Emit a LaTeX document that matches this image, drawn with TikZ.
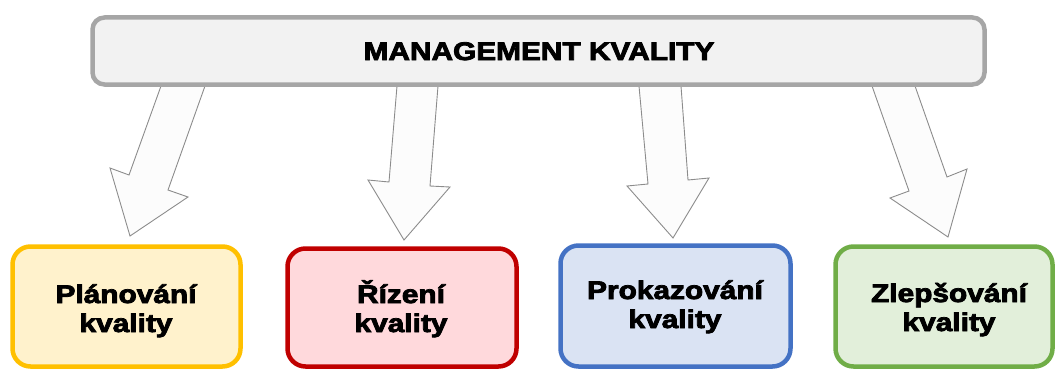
\documentclass[tikz,border=0pt]{standalone}
\usepackage{fontspec}
\usepackage{graphicx}
\setmainfont{Liberation Sans}
\newfontfamily\heavy{Liberation Sans Bold}[FakeBold=3]
\newcommand\sx[1]{\scalebox{1.17}[1]{#1}}
\definecolor{topline}{HTML}{A6A6A6}
\definecolor{topfill}{HTML}{F2F2F2}
\definecolor{yline}{HTML}{FFC000}
\definecolor{yfill}{HTML}{FFF2CC}
\definecolor{rline}{HTML}{C00000}
\definecolor{rfill}{HTML}{FFD9DC}
\definecolor{bline}{HTML}{4472C4}
\definecolor{bfill}{HTML}{DAE3F3}
\definecolor{gline}{HTML}{70AD47}
\definecolor{gfill}{HTML}{E2EFDA}
\definecolor{arline}{HTML}{8C8C8C}
\definecolor{arfill}{HTML}{FCFCFC}
\begin{document}
\begin{tikzpicture}[x=1pt,y=-1pt,
  boxstyle/.style={line width=4.5pt, rounded corners=18pt},
  blockarrow/.style={draw=arline, fill=arfill, line width=0.9pt, line join=miter},
  txt/.style={font=\fontsize{25.5}{29}\heavy, inner sep=0pt, anchor=base}]
\useasboundingbox (0,0) rectangle (1057,369);
% block arrows
\draw[blockarrow] (161,86) -- (205,86) -- (168,190) -- (188,197) -- (130,236) -- (110,168) -- (129,175) -- cycle;
\draw[blockarrow] (397,86) -- (438,86) -- (430,186) -- (450,187) -- (404,240) -- (368,180) -- (389,182) -- cycle;
\draw[blockarrow] (639,86) -- (681,86) -- (688,180) -- (709,178) -- (673,238) -- (627,186) -- (648,184) -- cycle;
\draw[blockarrow] (872,86) -- (915,86) -- (947,177) -- (967,169) -- (948,237) -- (890,198) -- (909,191) -- cycle;
% top box
\draw[line width=4.5pt, rounded corners=12pt, draw=topline, fill=topfill] (92.5,17.5) rectangle (984.5,84.5);
\node[txt] (top) at (539,60) {\sx{MANAGEMENT KVALITY}};
% bottom boxes
\draw[boxstyle, draw=yline, fill=yfill] (12.5,246.5) rectangle (240.5,366.5);
\draw[boxstyle, draw=rline, fill=rfill] (287.5,248.5) rectangle (516.5,366.5);
\draw[boxstyle, draw=bline, fill=bfill] (560.5,245.5) rectangle (790.5,366.5);
\draw[boxstyle, draw=gline, fill=gfill] (835.5,246.5) rectangle (1052.5,366.5);
% texts
\node[txt] (p1) at (126,303) {\sx{Plánování}};
\node[txt] (p2) at (126,332) {\sx{kvality}};
\node[txt] (r1) at (401,303) {\sx{Řízení}};
\node[txt] (r2) at (401,332) {\sx{kvality}};
\node[txt] (k1) at (675,299) {\sx{Prokazování}};
\node[txt] (k2) at (675,328) {\sx{kvality}};
\node[txt] (z1) at (949,302) {\sx{Zlepšování}};
\node[txt] (z2) at (949,331) {\sx{kvality}};
\end{tikzpicture}
\end{document}
